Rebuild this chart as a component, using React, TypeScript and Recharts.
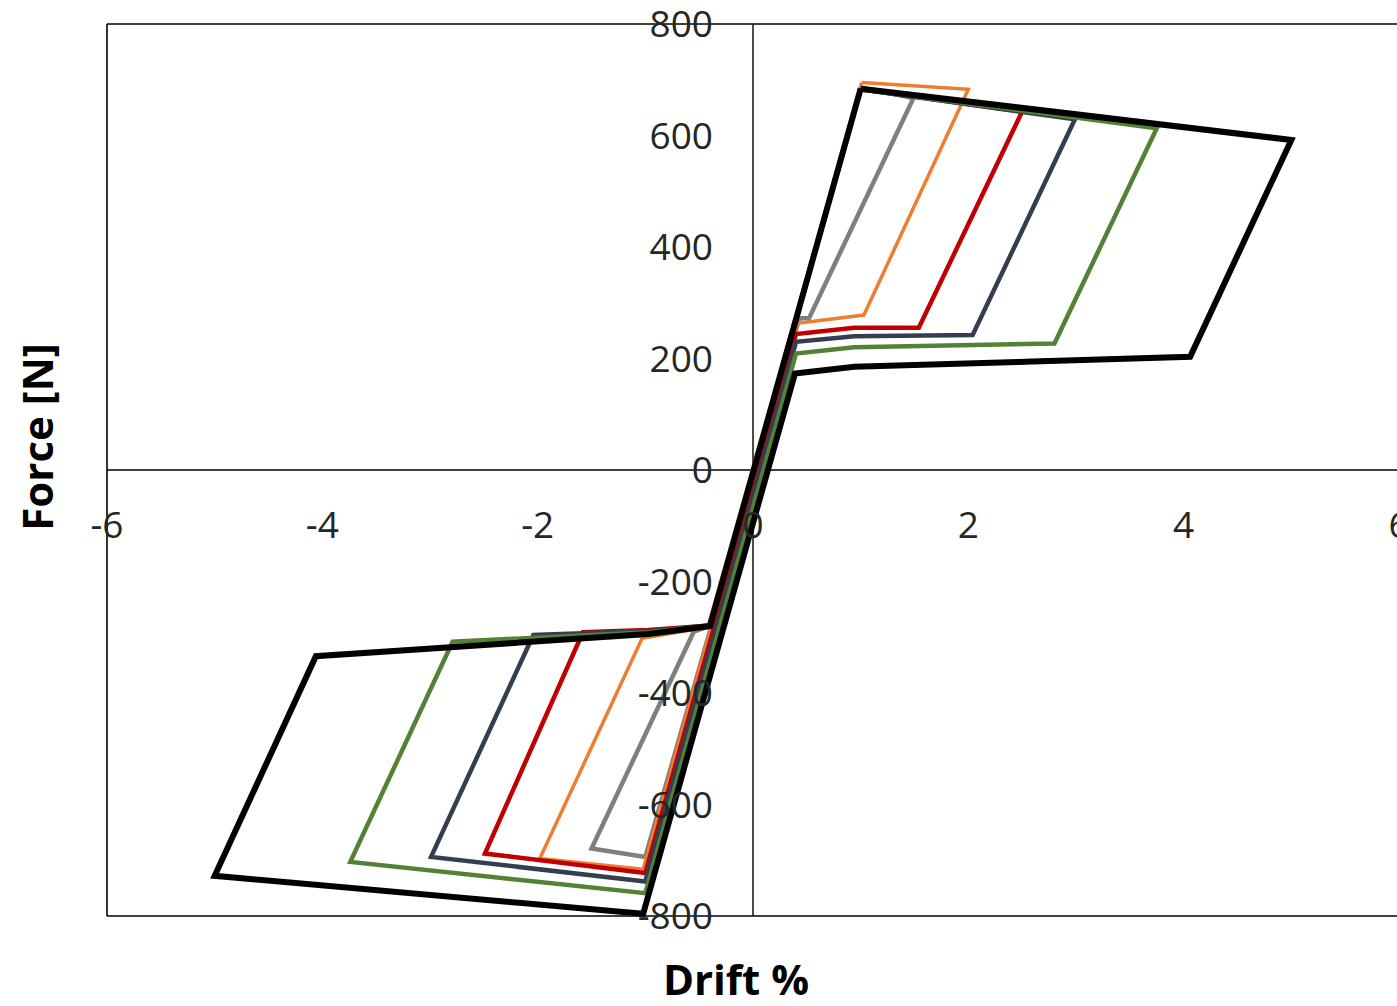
import React from "react";
import { LineChart, Line, XAxis, YAxis, ReferenceLine } from "recharts";

// ---- data (drift %, force N), each loop listed as a closed polygon ----
const xTicks = [-6, -4, -2, 0, 2, 4, 6];
const yTicks = [-800, -600, -400, -200, 0, 200, 400, 600, 800];

const grayDrift = [1.0, 1.49, 0.52, 0.43, -1.0, -1.5, -0.55, -0.4, 1.0];
const grayForce = [686, 667, 272, 272, -694, -679, -290, -280, 686];

const orangeDrift = [1.01, 2.0, 1.03, 0.41, -1.02, -1.98, -1.03, -0.42, 1.01];
const orangeForce = [695, 683, 278, 263, -716, -697, -302, -282, 695];

const redDrift = [1.0, 2.5, 1.54, 0.94, 0.4, -1.0, -2.49, -1.58, -0.97, -0.4, 1.0];
const redForce = [683, 643, 255, 255, 244, -723, -688, -291, -287, -279, 683];

const navyDrift = [1.0, 2.99, 2.04, 0.94, 0.4, -1.0, -2.99, -2.04, -0.97, -0.4, 1.0];
const navyForce = [683, 629, 242, 240, 230, -738, -694, -296, -289, -279, 683];

const greenDrift = [1.0, 3.75, 2.8, 0.94, 0.4, -1.0, -3.74, -2.79, -0.97, -0.4, 1.0];
const greenForce = [683, 613, 227, 220, 209, -759, -703, -308, -291, -279, 683];

const blackDrift = [1.0, 5.0, 4.06, 0.94, 0.39, -1.02, -5.0, -4.06, -0.97, -0.4, 1.0];
const blackForce = [684, 592, 203, 185, 173, -796, -728, -334, -294, -280, 684];

const build = (d: number[], f: number[]) => d.map((x, i) => ({ x, y: f[i] }));

const series = [
  { key: "gray", color: "#7F7F7F", width: 4.5, data: build(grayDrift, grayForce) },
  { key: "orange", color: "#ED7D31", width: 3.5, data: build(orangeDrift, orangeForce) },
  { key: "red", color: "#C00000", width: 4.5, data: build(redDrift, redForce) },
  { key: "navy", color: "#333F50", width: 4.5, data: build(navyDrift, navyForce) },
  { key: "green", color: "#548235", width: 4.5, data: build(greenDrift, greenForce) },
  { key: "black", color: "#000000", width: 6, data: build(blackDrift, blackForce) },
];

// ---- layout ----
const W = 1420;
const H = 998;
const TOP = 16;
const LEFT = 99;
const PLOT_W = 1292;
const PLOT_H = 892;
const RIGHT = W - LEFT - PLOT_W;
const BOTTOM = H - TOP - PLOT_H;
const ZERO_X = LEFT + PLOT_W / 2;
const ZERO_Y = TOP + PLOT_H / 2;
const FONT = "'Open Sans', 'Liberation Sans', sans-serif";
const TEXT = "#262626";

const XTick = (props: any) => {
  const { x, payload } = props;
  return (
    <text x={x} y={ZERO_Y + 68} textAnchor="middle" fontFamily={FONT} fontSize={37} fill={TEXT}>
      {payload.value}
    </text>
  );
};

const YTick = (props: any) => {
  const { y, payload } = props;
  return (
    <text x={ZERO_X - 40} y={y + 13} textAnchor="end" fontFamily={FONT} fontSize={37} fill={TEXT}>
      {payload.value}
    </text>
  );
};

const XTitle = () => (
  <text x={ZERO_X - 17} y={TOP + PLOT_H + 79} textAnchor="middle" fontFamily={FONT} fontSize={42} fontWeight={700} fill="#000">
    Drift %
  </text>
);

const YTitle = () => (
  <text
    x={0}
    y={0}
    transform={`translate(45, ${ZERO_Y - 33}) rotate(-90)`}
    textAnchor="middle"
    fontFamily={FONT}
    fontSize={42}
    fontWeight={700}
    fill="#000"
  >
    Force [N]
  </text>
);

export default function App() {
  return (
    <div style={{ position: "fixed", left: 8, top: 8, width: W, height: H, background: "#fff" }}>
      <LineChart width={W} height={H} margin={{ top: TOP, right: RIGHT, bottom: 0, left: 0 }}>
        <XAxis
          type="number"
          dataKey="x"
          domain={[-6, 6]}
          ticks={xTicks}
          interval={0}
          axisLine={false}
          tickLine={false}
          height={BOTTOM}
          tick={<XTick />}
          label={{ content: () => <XTitle /> }}
        />
        <YAxis
          type="number"
          dataKey="y"
          domain={[-800, 800]}
          ticks={yTicks}
          interval={0}
          axisLine={false}
          tickLine={false}
          width={LEFT}
          tick={<YTick />}
          label={{ content: () => <YTitle /> }}
        />
        <ReferenceLine x={-6} stroke="#000" strokeWidth={1.6} />
        <ReferenceLine x={6} stroke="#000" strokeWidth={1.6} />
        <ReferenceLine y={800} stroke="#000" strokeWidth={1.6} />
        <ReferenceLine y={-800} stroke="#000" strokeWidth={1.6} />
        <ReferenceLine x={0} stroke="#000" strokeWidth={1.4} />
        <ReferenceLine y={0} stroke="#000" strokeWidth={1.4} />
        {series.map((s) => (
          <Line
            key={s.key}
            data={s.data}
            dataKey="y"
            type="linear"
            stroke={s.color}
            strokeWidth={s.width}
            strokeLinejoin="miter"
            dot={false}
            activeDot={false}
            isAnimationActive={false}
          />
        ))}
      </LineChart>
    </div>
  );
}
